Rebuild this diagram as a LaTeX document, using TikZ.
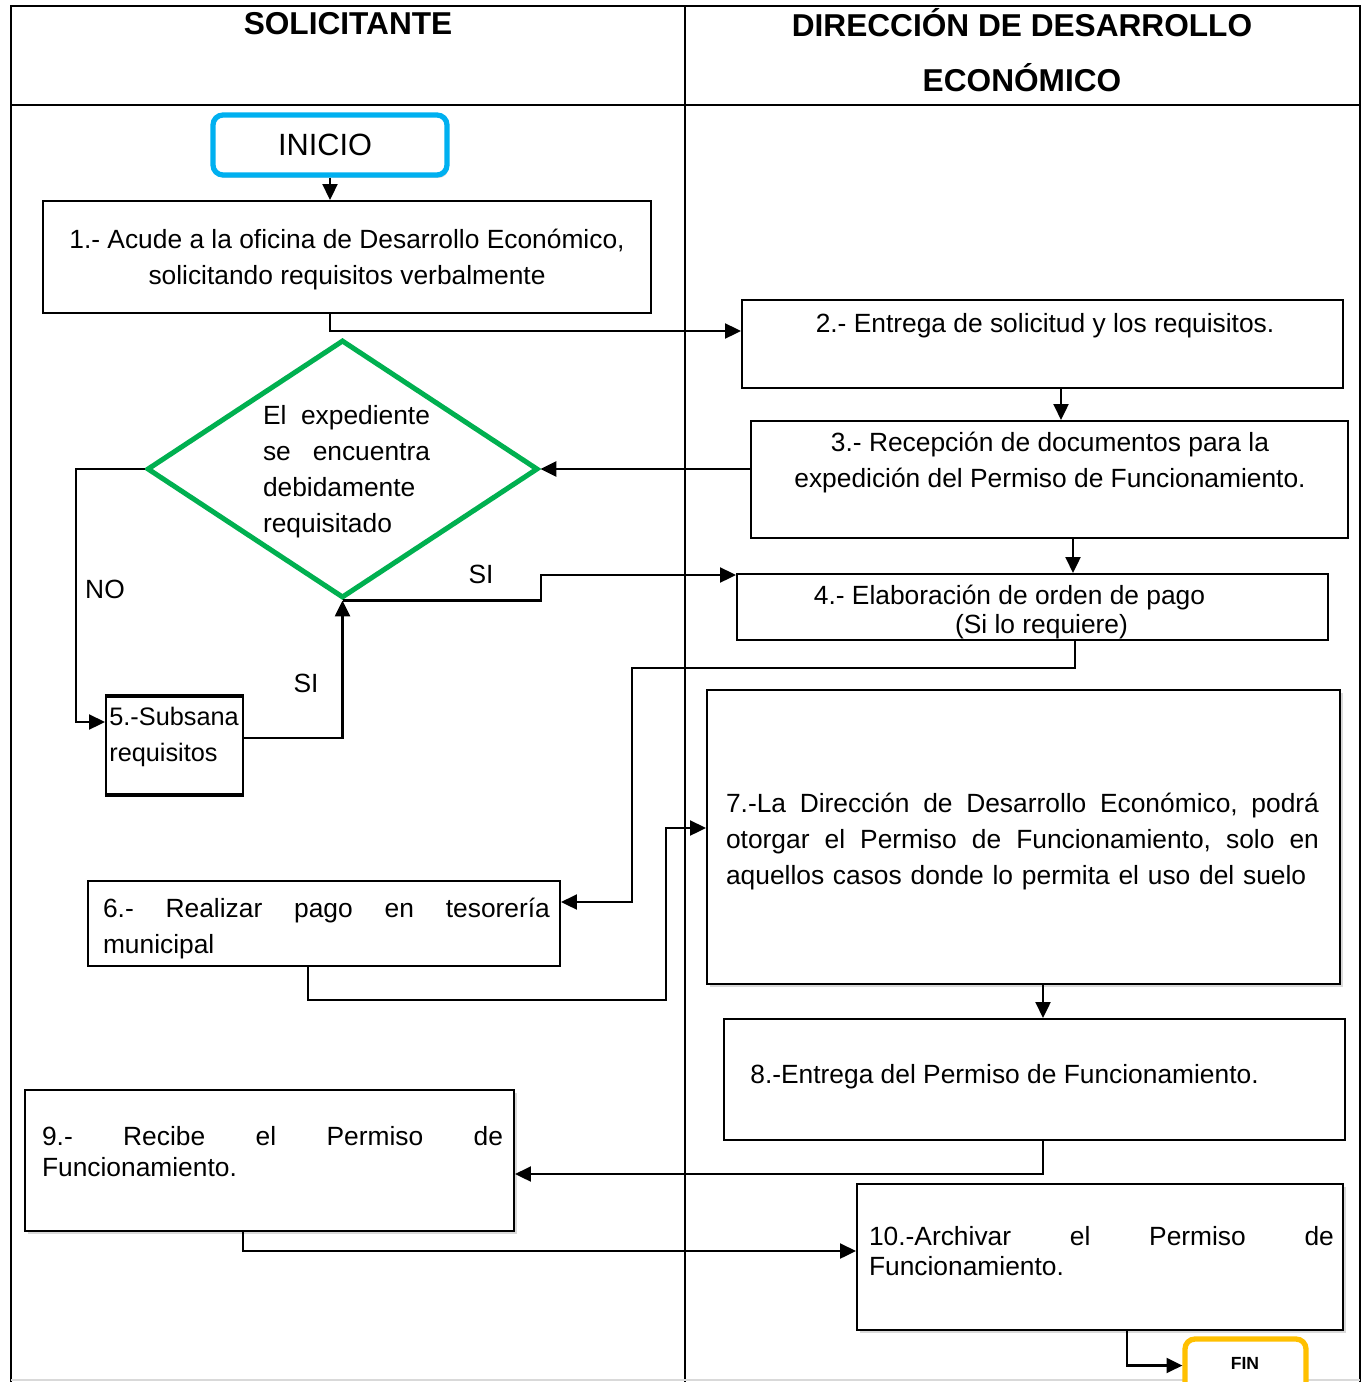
\documentclass[tikz,border=0pt]{standalone}
\usepackage{fontspec}
\setmainfont{Liberation Sans}
\usetikzlibrary{arrows.meta,shapes.geometric,fit,shadows}
\definecolor{cy}{RGB}{0,176,240}
\definecolor{gr}{RGB}{0,176,80}
\definecolor{og}{RGB}{255,192,0}
\begin{document}
\begin{tikzpicture}[x=0.02cm,y=-0.02cm,
 box/.style={draw, line width=1.2pt, fill=white, inner sep=0pt},
 sbox/.style={box, drop shadow={shadow xshift=0.05cm, shadow yshift=-0.06cm, opacity=0.3}},
 txt/.style={font=\fontsize{15}{20.5}\selectfont, inner sep=0pt},
 hd/.style={font=\fontsize{18}{22}\selectfont\bfseries, inner sep=0pt},
 arr/.style={line width=1.25pt, -{Triangle[length=9pt,width=8.5pt]}},
 lane/.style={line width=0.8pt}]
\useasboundingbox (0,0) rectangle (1364,1382);
\clip (0,0) rectangle (1364,1382);
% lanes
\draw[lane] (11,1382) -- (11,6) -- (1360,6) -- (1360,1382);
\draw[lane] (11,105) -- (1360,105);
\draw[lane] (685,6) -- (685,1382);
\draw[gray!30, line width=0.8pt] (11,1380) -- (1360,1380);
\node[hd] (h1) at (348,24) {SOLICITANTE};
\node[hd] (h2) at (1022,23) {DIRECCIÓN DE DESARROLLO};
\node[hd] (h3) at (1022,78) {ECONÓMICO};
% coordinates
\coordinate (h331) at (0,331);
\coordinate (v1061) at (1061,0);
\coordinate (v1073) at (1073,0);
\coordinate (n1) at (76,722);
\coordinate (h738) at (0,738);
\coordinate (m1) at (541,575);
\coordinate (v1075) at (1075,0);
\coordinate (q1) at (632,668);
\coordinate (q2) at (0,902);
\coordinate (v308) at (308,0);
\coordinate (r1) at (666,1000);
\coordinate (h828) at (0,828);
\coordinate (v1043) at (1043,0);
\coordinate (h1174) at (0,1174);
\coordinate (v243) at (243,0);
\coordinate (h1251) at (0,1251);
\coordinate (v1127) at (1127,0);
% shapes
\node[draw=cy, line width=3pt, rounded corners=0.2cm, fill=white, inner sep=0pt,
  drop shadow={shadow xshift=0.03cm, shadow yshift=-0.06cm, opacity=0.3},
  fit={(213,115) (447,175)}] (ini) {};
\node[font=\fontsize{17.5}{20}\selectfont] (tini) at (325,145) {INICIO};
\node[box, fit={(43,201) (651,313)}] (b1) {};
\node[txt, align=center] (t1) at (347,260) {1.- Acude a la oficina de Desarrollo Económico,\\solicitando requisitos verbalmente};
\node[box, fit={(742,300) (1343,388)}] (b2) {};
\node[txt] (t2) at (1045,326) {2.- Entrega de solicitud y los requisitos.};
\node[box, fit={(751,421) (1348,538)}] (b3) {};
\node[txt, align=center] (t3) at (1050,463) {3.- Recepción de documentos para la\\expedición del Permiso de Funcionamiento.};
\node[diamond, draw=gr, line width=2.85pt, fill=white, minimum width=7.82cm, minimum height=5.16cm, inner sep=0pt] (d) at (342.5,469) {};
\node[txt, text width=3.34cm, align=left] (td) at (346.5,472) {\makebox[3.34cm][s]{El\hfill expediente}\\\makebox[3.34cm][s]{se\hfill encuentra}\\debidamente\\requisitado};
\node[box, fit={(737,574) (1328,640)}] (b4) {};
\node[txt, align=center] (t4) at (1009.5,612.5) {4.- Elaboración de orden de pago\\[-0.14cm]\hspace*{1.28cm}(Si lo requiere)};
\node[box, fit={(106,697) (243,794)}] (b5) {};
\draw[line width=2.2pt] (b5.north west) -- (b5.north east);
\draw[line width=2.2pt] (b5.south west) -- (b5.south east);
\node[txt, font=\fontsize{14.4}{20.5}\selectfont, align=left, anchor=west] (t5) at (109,737) {5.-Subsana\\requisitos};
\node[box, fit={(88,881) (560,966)}] (b6) {};
\node[txt, text width=8.94cm, align=left] (t6) at (326.5,929) {\makebox[8.94cm][s]{6.-\hfill Realizar\hfill pago\hfill en\hfill tesorería}\\municipal};
\node[sbox, fit={(707,690) (1340,984)}] (b7) {};
\node[txt, text width=11.86cm, align=left] (t7) at (1022.5,842) {\makebox[11.86cm][s]{7.-La\hfill Dirección\hfill de\hfill Desarrollo\hfill Económico,\hfill podrá}\\\makebox[11.86cm][s]{otorgar\hfill el\hfill Permiso\hfill de\hfill Funcionamiento,\hfill solo\hfill en}\\aquellos casos donde lo permita el uso del suelo};
\node[box, fit={(724,1019) (1345,1140)}] (b8) {};
\node[txt, anchor=west] (t8) at (750,1077) {8.-Entrega del Permiso de Funcionamiento.};
\node[sbox, fit={(25,1090) (514,1231)}] (b9) {};
\node[txt, text width=9.22cm, align=left] (t9) at (272.5,1151.5) {\makebox[9.22cm][s]{9.-\hfill Recibe\hfill el\hfill Permiso\hfill de}\\[-0.1cm]Funcionamiento.};
\node[sbox, fit={(857,1184) (1343,1330)}] (b10) {};
\node[txt, text width=9.3cm, align=left] (t10) at (1101.5,1251) {\makebox[9.3cm][s]{10.-Archivar\hfill el\hfill Permiso\hfill de}\\[-0.12cm]Funcionamiento.};
\node[draw=og, line width=3pt, rounded corners=0.2cm, fill=white, inner sep=0pt, fit={(1185,1339) (1306,1392)}] (fin) {};
\node[font=\fontsize{10}{12}\selectfont\bfseries] (tfin) at (1245,1363) {FIN};
% labels
\node[txt] (lno) at (105,589) {NO};
\node[txt] (lsi1) at (306,683) {SI};
\node[txt] (lsi2) at (481,574) {SI};
% connectors
\draw[arr] (ini.south) -- (ini.south |- b1.north);
\draw[arr] (ini.south |- b1.south) |- (b2.west |- h331);
\draw[arr] (b2.south -| v1061) -- (b3.north -| v1061);
\draw[arr] (d.east -| b3.west) -- (d.east);
\draw[arr] (b3.south -| v1073) -- (b4.north -| v1073);
\draw[arr] (d.west) -| (n1) -- (b5.west |- n1);
\draw[arr] (b5.east |- h738) -| (d.south);
\draw[arr] (d.south) -| (m1) -- (b4.west |- m1);
\draw[arr] (b4.south -| v1075) |- (q1) |- (b6.east |- q2);
\draw[arr] (b6.south -| v308) |- (r1) |- (b7.west |- h828);
\draw[arr] (b7.south -| v1043) -- (b8.north -| v1043);
\draw[arr] (b8.south -| v1043) |- (b9.east |- h1174);
\draw[arr] (b9.south -| v243) |- (b10.west |- h1251);
\draw[arr] (b10.south -| v1127) |- (fin.west);
\end{tikzpicture}
\end{document}
